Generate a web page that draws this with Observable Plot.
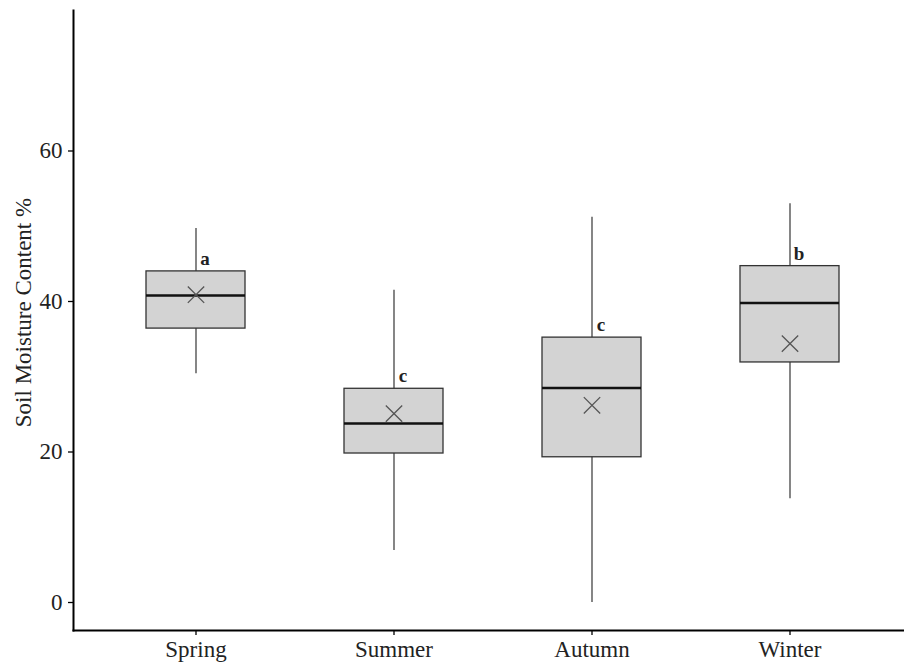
<!DOCTYPE html>
<html>
<head>
<meta charset="utf-8">
<script src="https://cdn.jsdelivr.net/npm/d3@7"></script>
<script src="https://cdn.jsdelivr.net/npm/@observablehq/plot@0.6"></script>
<style>
  html, body { margin: 0; padding: 0; background: #fff; }
  #chart svg { display: block; }
</style>
</head>
<body>
<div id="chart"></div>
<script>
const seasons = ["Spring", "Summer", "Autumn", "Winter"];
const whiskerLow = [30.4, 6.9, 0, 13.8];
const q1 = [36.4, 19.8, 19.3, 31.9];
const median = [40.8, 23.8, 28.5, 39.8];
const q3 = [44.0, 28.4, 35.2, 44.7];
const whiskerHigh = [49.7, 41.5, 51.2, 53.0];
const means = [40.9, 25.1, 26.2, 34.4];
const letters = ["a", "c", "c", "b"];
const yTicks = [0, 20, 40, 60];
const yLabel = "Soil Moisture Content %";

const data = seasons.map((s, i) => ({
  season: s, lo: whiskerLow[i], q1: q1[i], median: median[i],
  q3: q3[i], hi: whiskerHigh[i], mean: means[i], letter: letters[i]
}));

const font = "'Liberation Serif', 'Times New Roman', serif";

const chart = Plot.plot({
  width: 904,
  height: 666,
  marginLeft: 73,
  marginRight: 0,
  marginTop: 10,
  marginBottom: 36,
  style: { fontFamily: font, background: "#fff", color: "#000" },
  x: { type: "band", domain: seasons, range: [75, 910], paddingInner: 0.5, paddingOuter: 0.35 },
  y: { domain: [-3.72, 78.67] },
  marks: [
    Plot.ruleX(data, { x: "season", y1: "lo", y2: "hi", stroke: "#444", strokeWidth: 1.3 }),
    Plot.barY(data, { x: "season", y1: "q1", y2: "q3", fill: "#d3d3d3", stroke: "#333", strokeWidth: 1.3 }),
    Plot.tickY(data, { x: "season", y: "median", stroke: "#111", strokeWidth: 2.5 }),
    Plot.dot(data, { x: "season", y: "mean", symbol: "times", r: 7.5, stroke: "#555", strokeWidth: 1.3 }),
    Plot.text(data, { x: "season", y: "q3", text: "letter", dx: 9, dy: -12.5, fontSize: 19, fontWeight: "bold", fill: "#222" }),
    Plot.axisY({ ticks: yTicks, tickSize: 5, tickPadding: 6, fontSize: 23, label: null, stroke: "#000", strokeWidth: 1.3, fill: "#222" }),
    Plot.axisX({ tickSize: 5, tickPadding: 5, fontSize: 23, label: null, stroke: "#000", strokeWidth: 1.3, fill: "#222" }),
    Plot.frame({ anchor: "left", stroke: "#000", strokeWidth: 2 }),
    Plot.frame({ anchor: "bottom", stroke: "#000", strokeWidth: 2 }),
    Plot.text([yLabel], { frameAnchor: "left", text: d => d, rotate: -90, textAnchor: "middle", dx: -50, dy: -8, fontSize: 23, fill: "#222" })
  ]
});
document.getElementById("chart").appendChild(chart);
</script>
</body>
</html>
